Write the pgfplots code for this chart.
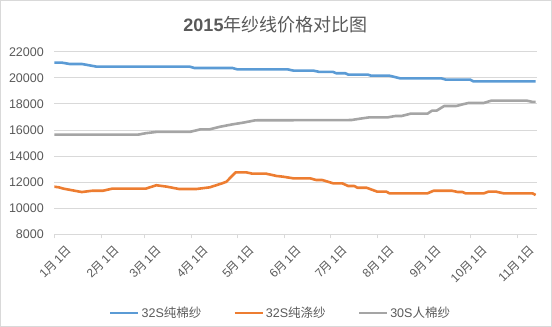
\documentclass[border=0pt]{standalone}
\usepackage{fontspec}
\setmainfont{Liberation Sans}
\newfontfamily\cjk{Noto Sans CJK SC}
\newcommand\zh[1]{{\cjk #1}}
\usepackage{pgfplots}
\pgfplotsset{compat=1.18}
\definecolor{cblue}{HTML}{5B9BD5}
\definecolor{corange}{HTML}{ED7D31}
\definecolor{cgray}{HTML}{A5A5A5}
\definecolor{gridc}{HTML}{D9D9D9}
\definecolor{txt}{HTML}{595959}
\begin{document}
\begin{tikzpicture}
\useasboundingbox (0,0) rectangle (552bp,327bp);
\draw[gridc, line width=1bp] (0.5bp,0.5bp) rectangle (551.5bp,326.5bp);
\node[text=txt, font=\fontsize{18bp}{20bp}\selectfont] at (275.5bp,302bp) {\textbf{2015}\zh{年纱线价格对比图}};
\begin{axis}[
  at={(54.3bp,92.7bp)}, anchor=south west,
  scale only axis, width=482.4bp, height=182.6bp,
  xmin=0, xmax=316.7, ymin=8000, ymax=22000,
  ytick={8000,10000,...,22000},
  scaled y ticks=false,
  xtick={0,31,59,90,120,151,181,212,243,273,304},
  xticklabels={1\zh{月}\,1\zh{日},2\zh{月}\,1\zh{日},3\zh{月}\,1\zh{日},4\zh{月}\,1\zh{日},5\zh{月}\,1\zh{日},6\zh{月}\,1\zh{日},7\zh{月}\,1\zh{日},8\zh{月}\,1\zh{日},9\zh{月}\,1\zh{日},10\zh{月}\,1\zh{日},11\zh{月}\,1\zh{日}},
  /pgf/number format/assume math mode=true,
  /pgf/number format/1000 sep={},
  axis line style={draw=none},
  ymajorgrids, grid style={gridc, line width=0.8bp},
  ytick style={draw=none},
  xtick pos=bottom, tick align=outside, major tick length=4bp,
  xtick style={gridc, line width=0.8bp},
  tick label style={text=txt, font=\fontsize{12.5bp}{14bp}\selectfont},
  yticklabel style={xshift=-3bp},
  xticklabel style={rotate=45, anchor=north east, inner sep=0bp, font=\fontsize{12bp}{13bp}\selectfont, xshift=4bp, yshift=-12bp},
  legend columns=3,
  legend style={at={(0.469,-0.431)}, anchor=center, draw=none, fill=none,
    font=\fontsize{12.5bp}{14bp}\selectfont, text=txt,
    /tikz/every even column/.append style={column sep=30bp}},
  legend image code/.code={\draw[#1, line width=2.6bp] (0bp,0bp) -- (28bp,0bp);},
  every axis plot/.append style={line width=2.6bp, line join=round},
]
\addplot[cblue] coordinates {(0,21160)(5,21160)(10,21060)(18,21060)(28,20850)(89,20850)(92,20750)(117,20750)(120,20650)(153,20650)(157,20550)(170,20550)(174,20450)(183,20450)(185,20350)(191,20350)(193,20240)(206,20240)(208,20160)(220,20160)(227,19960)(254,19960)(257,19860)(273,19860)(275,19730)(316,19730)};
\addlegendentry{32S\zh{纯棉纱}}
\addplot[corange] coordinates {(0,11650)(3,11600)(6,11500)(18,11240)(25,11340)(32,11340)(38,11500)(60,11500)(67,11760)(74,11650)(82,11470)(93,11470)(102,11600)(110,11900)(113,12030)(119,12750)(126,12750)(130,12650)(139,12650)(146,12470)(150,12420)(157,12290)(168,12290)(172,12160)(176,12160)(183,11910)(189,11910)(193,11700)(197,11700)(199,11570)(205,11570)(212,11270)(218,11270)(220,11140)(245,11140)(249,11340)(261,11340)(265,11240)(268,11240)(270,11140)(282,11140)(285,11270)(290,11270)(295,11140)(314,11140)(316,11010)};
\addlegendentry{32S\zh{纯涤纱}}
\addplot[cgray] coordinates {(0,15640)(55,15640)(60,15750)(67,15850)(89,15850)(96,16050)(102,16050)(109,16250)(117,16430)(124,16560)(132,16740)(195,16760)(201,16870)(207,16970)(219,16970)(224,17070)(228,17070)(234,17250)(245,17250)(248,17480)(251,17480)(256,17840)(264,17840)(269,17990)(272,18070)(282,18070)(287,18250)(310,18250)(314,18150)(316,18150)};
\addlegendentry{30S\zh{人棉纱}}
\end{axis}
\end{tikzpicture}
\end{document}
